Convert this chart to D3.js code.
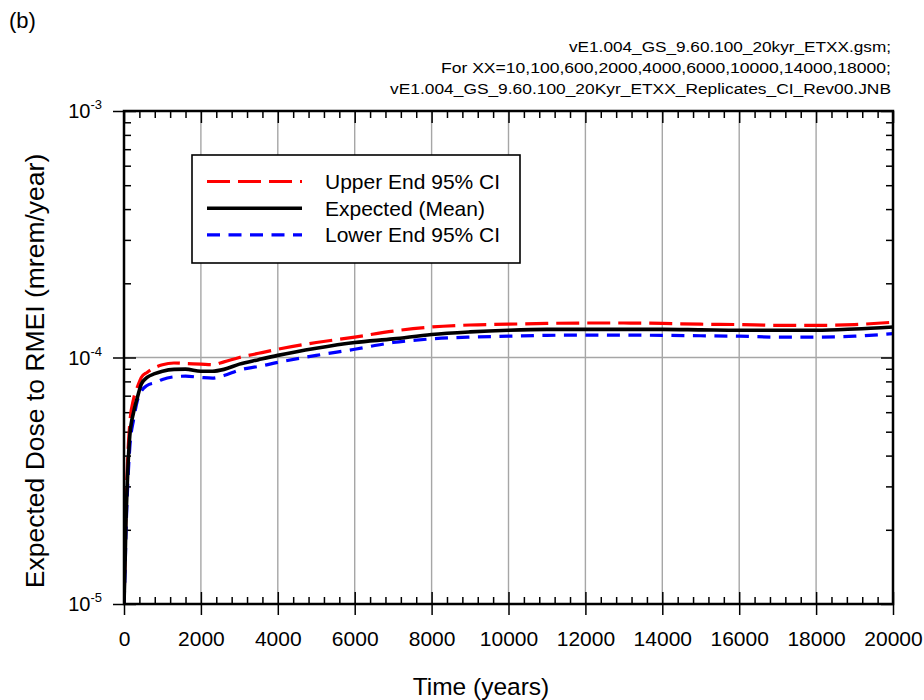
<!DOCTYPE html>
<html>
<head>
<meta charset="utf-8">
<script src="https://cdn.jsdelivr.net/npm/d3@7"></script>
<style>
  html, body { margin: 0; padding: 0; background: #fff; }
  svg { display: block; font-family: "Liberation Sans", Arial, sans-serif; }
</style>
</head>
<body>
<svg id="chart" width="924" height="700"></svg>
<script>
// Time axis samples (years)
const years = [0, 25, 50, 100, 150, 250, 350, 450, 600, 800, 1000, 1300, 1600, 2000, 2300, 2600, 3000, 3500, 4000, 5000, 6000, 7000, 8000, 9000, 10000, 11000, 12000, 13000, 14000, 15000, 16000, 17000, 18000, 19000, 20000];

// Expected dose to RMEI (mrem/year)
const upperCI = [1.0e-5, 1.5e-5, 2.4e-5, 4.0e-5, 5.4e-5, 6.8e-5, 7.6e-5, 8.3e-5, 8.7e-5, 9.1e-5, 9.35e-5, 9.5e-5, 9.45e-5, 9.4e-5, 9.35e-5, 9.6e-5, 1.0e-4, 1.04e-4, 1.08e-4, 1.15e-4, 1.21e-4, 1.28e-4, 1.33e-4, 1.355e-4, 1.365e-4, 1.375e-4, 1.38e-4, 1.38e-4, 1.375e-4, 1.365e-4, 1.36e-4, 1.35e-4, 1.35e-4, 1.36e-4, 1.39e-4];
const meanDose = [1.0e-5, 1.4e-5, 2.1e-5, 3.5e-5, 4.8e-5, 6.0e-5, 6.9e-5, 7.8e-5, 8.3e-5, 8.6e-5, 8.8e-5, 8.95e-5, 8.97e-5, 8.8e-5, 8.8e-5, 8.95e-5, 9.4e-5, 9.8e-5, 1.02e-4, 1.09e-4, 1.15e-4, 1.19e-4, 1.24e-4, 1.27e-4, 1.29e-4, 1.30e-4, 1.30e-4, 1.30e-4, 1.30e-4, 1.295e-4, 1.29e-4, 1.29e-4, 1.29e-4, 1.305e-4, 1.33e-4];
const lowerCI = [1.0e-5, 1.3e-5, 1.9e-5, 3.1e-5, 4.3e-5, 5.6e-5, 6.7e-5, 7.3e-5, 7.7e-5, 7.9e-5, 8.15e-5, 8.35e-5, 8.4e-5, 8.3e-5, 8.25e-5, 8.45e-5, 8.9e-5, 9.2e-5, 9.55e-5, 1.02e-4, 1.08e-4, 1.15e-4, 1.19e-4, 1.21e-4, 1.22e-4, 1.23e-4, 1.233e-4, 1.232e-4, 1.23e-4, 1.225e-4, 1.22e-4, 1.21e-4, 1.21e-4, 1.22e-4, 1.25e-4];

const xTickValues = [0, 2000, 4000, 6000, 8000, 10000, 12000, 14000, 16000, 18000, 20000];
const yTickExponents = [-5, -4, -3];

const seriesNames = ["Upper End 95% CI", "Expected (Mean)", "Lower End 95% CI"];
const headerLines = [
  "vE1.004_GS_9.60.100_20kyr_ETXX.gsm;",
  "For XX=10,100,600,2000,4000,6000,10000,14000,18000;",
  "vE1.004_GS_9.60.100_20Kyr_ETXX_Replicates_CI_Rev00.JNB"
];

const svg = d3.select("#chart");
const plot = { left: 124, right: 893, top: 111, bottom: 604 };

const x = d3.scaleLinear().domain([0, 20000]).range([plot.left, plot.right]);
const y = d3.scaleLog().domain([1e-5, 1e-3]).range([plot.bottom, plot.top]);

// Panel label and run description
svg.append("text").attr("x", 9).attr("y", 28).attr("font-size", 22).text("(b)");
svg.append("g").selectAll("text").data(headerLines).join("text")
  .attr("x", 891).attr("y", (d, i) => 52 + i * 21)
  .attr("text-anchor", "end").attr("font-size", 14)
  .attr("textLength", (d, i) => [322, 450, 501][i])
  .attr("lengthAdjust", "spacingAndGlyphs")
  .text(d => d);

// Grid lines
const grid = svg.append("g").attr("stroke", "#a6a6a6").attr("stroke-width", 1.4);
grid.selectAll("line.v").data(xTickValues.slice(1, -1)).join("line")
  .attr("x1", d => x(d)).attr("x2", d => x(d))
  .attr("y1", plot.top).attr("y2", plot.bottom);
grid.selectAll("line.h").data([1e-4]).join("line")
  .attr("x1", plot.left).attr("x2", plot.right)
  .attr("y1", d => y(d)).attr("y2", d => y(d));

// Minor ticks
const xMinor = d3.range(0, 20001, 400).filter(v => v % 2000 !== 0);
const yMinor = [];
[-5, -4].forEach(e => { for (let k = 2; k <= 9; k++) yMinor.push(k * Math.pow(10, e)); });

function styleAxis(g) {
  g.select(".domain").remove();
  g.selectAll(".tick line").attr("stroke", "#000").attr("stroke-width", 1.5);
}

// Bottom axis: labelled major ticks crossing the frame, inward minor ticks
svg.append("g").attr("transform", `translate(0,${plot.bottom})`)
  .call(d3.axisBottom(x).tickValues(xTickValues).tickSize(11).tickFormat(d3.format("d")).tickPadding(16))
  .call(styleAxis)
  .call(g => g.selectAll(".tick text").attr("font-size", 21).attr("fill", "#000").attr("font-family", "Liberation Sans, Arial, sans-serif"));
svg.append("g").attr("transform", `translate(0,${plot.bottom})`)
  .call(d3.axisBottom(x).tickValues(xTickValues).tickSize(-12).tickFormat(""))
  .call(styleAxis);
svg.append("g").attr("transform", `translate(0,${plot.bottom})`)
  .call(d3.axisBottom(x).tickValues(xMinor).tickSize(-7).tickFormat(""))
  .call(styleAxis);

// Top axis: inward ticks
svg.append("g").attr("transform", `translate(0,${plot.top})`)
  .call(d3.axisTop(x).tickValues(xTickValues).tickSize(-12).tickFormat(""))
  .call(styleAxis);
svg.append("g").attr("transform", `translate(0,${plot.top})`)
  .call(d3.axisTop(x).tickValues(xMinor).tickSize(-7).tickFormat(""))
  .call(styleAxis);

// Left axis: decade ticks crossing the frame, inward minor ticks
const yMajorVals = yTickExponents.map(e => Math.pow(10, e));
svg.append("g").attr("transform", `translate(${plot.left},0)`)
  .call(d3.axisLeft(y).tickValues(yMajorVals).tickSize(11).tickFormat(""))
  .call(styleAxis);
svg.append("g").attr("transform", `translate(${plot.left},0)`)
  .call(d3.axisLeft(y).tickValues(yMajorVals).tickSize(-12).tickFormat(""))
  .call(styleAxis);
svg.append("g").attr("transform", `translate(${plot.left},0)`)
  .call(d3.axisLeft(y).tickValues(yMinor).tickSize(-7).tickFormat(""))
  .call(styleAxis);

// Right axis: inward ticks
svg.append("g").attr("transform", `translate(${plot.right},0)`)
  .call(d3.axisRight(y).tickValues(yMajorVals).tickSize(-12).tickFormat(""))
  .call(styleAxis);
svg.append("g").attr("transform", `translate(${plot.right},0)`)
  .call(d3.axisRight(y).tickValues(yMinor).tickSize(-7).tickFormat(""))
  .call(styleAxis);

// Decade labels written as powers of ten
const yLabels = svg.append("g").selectAll("text").data(yTickExponents).join("text")
  .attr("x", 102).attr("y", d => y(Math.pow(10, d)) + 7)
  .attr("text-anchor", "end").attr("font-size", 20);
yLabels.append("tspan").text("10");
yLabels.append("tspan").attr("dy", -9).attr("font-size", 13).text(d => String(d));

// Data lines
svg.append("defs").append("clipPath").attr("id", "plot-clip")
  .append("rect").attr("x", plot.left).attr("y", plot.top)
  .attr("width", plot.right - plot.left).attr("height", plot.bottom - plot.top);

const series = [
  { name: seriesNames[0], values: upperCI, color: "#ff0000", dash: "23,8", width: 3.2 },
  { name: seriesNames[2], values: lowerCI, color: "#0000ff", dash: "13,8.5", width: 3.2 },
  { name: seriesNames[1], values: meanDose, color: "#000000", dash: null, width: 3.6 }
];

const line = d3.line()
  .x((d, i) => x(years[i]))
  .y(d => y(d))
  .curve(d3.curveMonotoneX);

svg.append("g").attr("clip-path", "url(#plot-clip)")
  .selectAll("path").data(series).join("path")
  .attr("d", d => line(d.values))
  .attr("fill", "none")
  .attr("stroke", d => d.color)
  .attr("stroke-width", d => d.width)
  .attr("stroke-dasharray", d => d.dash);

// Plot frame
svg.append("rect")
  .attr("x", plot.left).attr("y", plot.top)
  .attr("width", plot.right - plot.left).attr("height", plot.bottom - plot.top)
  .attr("fill", "none").attr("stroke", "#000").attr("stroke-width", 2.5);

// Legend
const legendItems = [
  { name: seriesNames[0], s: series[0] },
  { name: seriesNames[1], s: series[2] },
  { name: seriesNames[2], s: series[1] }
];
const legend = svg.append("g");
legend.append("rect").attr("x", 192).attr("y", 155).attr("width", 328).attr("height", 108)
  .attr("fill", "#fff").attr("stroke", "#000").attr("stroke-width", 1.6);
const rows = legend.selectAll("g.row").data(legendItems).join("g")
  .attr("transform", (d, i) => `translate(0,${181.5 + i * 26.7})`);
rows.append("line").attr("x1", 207).attr("x2", 302).attr("y1", 0).attr("y2", 0)
  .attr("stroke", d => d.s.color).attr("stroke-width", d => d.s.width)
  .attr("stroke-dasharray", d => d.s.dash);
rows.append("text").attr("x", 325).attr("y", 7.5).attr("font-size", 21).text(d => d.name);

// Axis titles
svg.append("text").attr("x", 481).attr("y", 695)
  .attr("text-anchor", "middle").attr("font-size", 24.5).text("Time (years)");
svg.append("text").attr("transform", "translate(44,371) rotate(-90)")
  .attr("text-anchor", "middle").attr("font-size", 26.5).text("Expected Dose to RMEI (mrem/year)");
</script>
</body>
</html>
